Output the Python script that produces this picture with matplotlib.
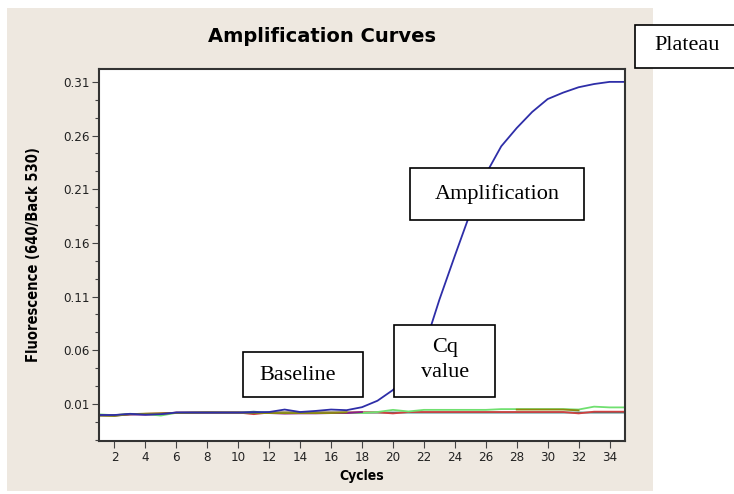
import numpy as np
import matplotlib.pyplot as plt
from matplotlib.patches import Rectangle
from matplotlib.ticker import FixedLocator

# amplification run, cycles 1..35 (nan = trace hidden under the others)
cycles = list(range(1, 36))
nan = np.nan

blue = [-0.0003, -0.0003, 0.0008, 0.0000, 0.0005, 0.0020, 0.0020, 0.0020, 0.0020, 0.0020,
        0.0022, 0.0025, 0.0048, 0.0025, 0.0035, 0.0048, 0.0042, 0.0070, 0.0130, 0.0230,
        0.0380, 0.0620, 0.1070, 0.1480, 0.1880, 0.2240, 0.2500, 0.2670, 0.2820, 0.2940,
        0.3000, 0.3050, 0.3080, 0.3100, 0.3100]
red = [-0.0005, -0.0003, 0.0003, 0.0008, 0.0013, 0.0018, 0.0020, 0.0020, 0.0020, 0.0020,
       0.0005, 0.0020, 0.0022, 0.0022, 0.0022, 0.0022, 0.0022, 0.0022, 0.0022, 0.0012,
       0.0025, 0.0025, 0.0025, 0.0025, 0.0025, 0.0025, 0.0025, 0.0025, 0.0025, 0.0025,
       0.0025, 0.0012, 0.0028, 0.0028, 0.0028]
green = [0.0003, -0.0005, 0.0008, 0.0005, -0.0008, 0.0018, 0.0020, 0.0020, 0.0020, 0.0020,
         0.0015, 0.0020, 0.0020, 0.0020, 0.0020, 0.0020, 0.0020, 0.0015, 0.0025, 0.0045,
         0.0030, 0.0045, 0.0045, 0.0045, 0.0045, 0.0045, 0.0052, 0.0052, 0.0052, 0.0052,
         0.0052, 0.0048, 0.0075, 0.0068, 0.0068]
olive = [-0.0008, -0.0012, 0.0005, 0.0010, 0.0012, 0.0015, 0.0018, 0.0022, 0.0020, 0.0020,
         0.0015, 0.0015, 0.0015, 0.0015, 0.0015, 0.0015, 0.0022, nan, nan, nan,
         nan, nan, nan, nan, nan, nan, nan, 0.0048, 0.0048, 0.0048,
         0.0048, 0.0040, nan, nan, nan]
purple = [-0.0005, -0.0008, 0.0003, 0.0000, 0.0008, 0.0020, 0.0020, 0.0020, 0.0020, 0.0020,
          0.0018, 0.0015, 0.0010, 0.0012, 0.0012, 0.0015, 0.0015, 0.0025, nan, nan,
          nan, nan, nan, nan, nan, nan, nan, nan, nan, nan,
          nan, nan, nan, nan, nan]
teal = [-0.0006, -0.0006, 0.0003, 0.0005, 0.0008, 0.0018, 0.0019, 0.0019, 0.0019, 0.0019,
        0.0028, 0.0018, 0.0018, 0.0018, 0.0018, 0.0018, 0.0018, 0.0020, 0.0020, 0.0020,
        0.0020, 0.0020, 0.0020, 0.0020, 0.0020, 0.0020, 0.0020, 0.0020, 0.0020, 0.0020,
        0.0020, 0.0020, 0.0020, 0.0020, 0.0020]

yticks = [0.01, 0.06, 0.11, 0.16, 0.21, 0.26, 0.31]
xticks = list(range(2, 35, 2))

beige = '#EEE8E0'

fig = plt.figure(figsize=(7.34, 4.94), dpi=100)
fig.patch.set_facecolor('white')

W, H = 734, 494


def px_box(x0, y0, x1, y1, **kw):
    # rectangle given in picture pixels (top-left origin)
    r = Rectangle((x0 / W, 1 - y1 / H), (x1 - x0) / W, (y1 - y0) / H,
                  transform=fig.transFigure, **kw)
    fig.patches.append(r)
    return r


px_box(7, 8, 653, 491, facecolor=beige, edgecolor='none', zorder=-5)

ax = fig.add_axes([99 / W, 1 - 441 / H, (625 - 99) / W, (441 - 69) / H])
ax.set_zorder(1)
ax.set_facecolor('white')

for ys, c in [(teal, '#2E7B7B'), (red, '#D04040'), (green, '#70E070'),
              (purple, '#8A1E8A'), (olive, '#8C8A10'), (blue, '#2E2EA8')]:
    ax.plot(cycles, ys, color=c, lw=1.3, solid_joinstyle='miter')

ax.set_xlim(1, 35)
ax.set_ylim(-0.0245, 0.322)
ax.set_xticks(xticks)
ax.set_yticks(yticks)
ax.set_yticklabels([f'{v:.2f}' for v in yticks])
step = 0.05 / 3
minors = [v + k * step for v in [-0.04] + yticks for k in (1, 2)]
ax.yaxis.set_minor_locator(FixedLocator(minors))

for lab in ax.get_xticklabels() + ax.get_yticklabels():
    lab.set_family('DejaVu Sans')
    lab.set_stretch('condensed')
    lab.set_fontsize(9.5)
    lab.set_color('#222222')

ax.tick_params(axis='both', which='major', direction='out', length=5, width=0.8,
               color='#444444', pad=2)
ax.tick_params(axis='y', which='minor', direction='out', length=3, width=0.8,
               color='#444444')
for s in ax.spines.values():
    s.set_color('#333333')
    s.set_linewidth(1.5)

ax.set_xlabel('Cycles', fontsize=10, fontweight='bold', family='DejaVu Sans',
              stretch='condensed', labelpad=4)
ax.set_ylabel('Fluorescence (640/Back 530)', fontsize=10.5, fontweight='bold',
              family='DejaVu Sans', stretch='condensed', labelpad=16)

fig.text(322 / W, 1 - 36 / H, 'Amplification Curves', ha='center', va='center',
         fontsize=14, fontweight='bold', family='DejaVu Sans')

# annotation boxes
serif = dict(family='Liberation Serif', fontsize=16, color='black')
boxes = [
    ((635, 25, 740, 68), 'Plateau', (687, 46)),
    ((410, 168, 584, 220), 'Amplification', (497, 194)),
    ((394, 325, 495, 397), 'Cq\nvalue', (445, 360)),
    ((243, 352, 363, 397), 'Baseline', (298, 375)),
]
for (x0, y0, x1, y1), txt, (tx, ty) in boxes:
    px_box(x0, y0, x1, y1, facecolor='white', edgecolor='black', lw=1.2, zorder=5)
    fig.text(tx / W, 1 - ty / H, txt, ha='center', va='center', zorder=6,
             linespacing=1.4, **serif)

fig.savefig('out.png', dpi=100)
